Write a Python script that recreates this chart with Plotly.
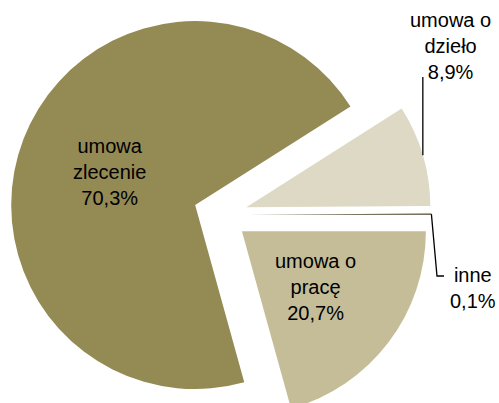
import math
import plotly.graph_objects as go

# ---- data ----
labels = ["umowa o pracę", "umowa zlecenie", "umowa o dzieło", "inne"]
values = [20.7, 70.3, 8.9, 0.1]
value_text = ["20,7%", "70,3%", "8,9%", "0,1%"]
label_text = ["umowa o<br>pracę", "umowa<br>zlecenie", "umowa o<br>dzieło", "inne"]
colors = ["#C4BD97", "#948A54", "#DDD9C4", "#4A452A"]

# ---- layout geometry (pixels) ----
W, H = 499, 426
CX, CY = 220.4, 214.8
BOX = 422.0
PULL = 0.147
R = BOX / 2 / (1 + PULL)
FONT = "Liberation Sans, Arial, sans-serif"
FS = 20
LABEL_R = 0.5  # inside label distance (fraction of radius) from slice apex


def px(x):
    return x / W


def py(y):
    return (H - y) / H


fig = go.Figure(
    go.Pie(
        labels=labels,
        values=values,
        sort=False,
        direction="clockwise",
        rotation=90,
        pull=[PULL] * len(values),
        marker=dict(colors=colors, line=dict(width=0)),
        textinfo="none",
        domain=dict(x=[(CX - BOX / 2) / W, (CX + BOX / 2) / W],
                    y=[(H - (CY + BOX / 2)) / H, (H - (CY - BOX / 2)) / H]),
        showlegend=False,
        hoverinfo="label+percent",
    )
)

# slice geometry computed from the data
total = sum(values)
cum = 0.0
mids = []
for v in values:
    a0 = -360 * cum / total
    cum += v
    a1 = -360 * cum / total
    mids.append(math.radians((a0 + a1) / 2))


def apex(i):
    m = mids[i]
    return CX + PULL * R * math.cos(m), CY - PULL * R * math.sin(m)


def arc_mid(i):
    ax, ay = apex(i)
    m = mids[i]
    return ax + R * math.cos(m), ay - R * math.sin(m)


def inside_pos(i):
    ax, ay = apex(i)
    m = mids[i]
    return ax + LABEL_R * R * math.cos(m), ay - LABEL_R * R * math.sin(m)


shapes = []
# leader line for "umowa o dzieło"
x0, y0 = arc_mid(2)
shapes.append(dict(type="line", xref="paper", yref="paper",
                   x0=px(x0), y0=py(y0), x1=px(x0), y1=py(77),
                   line=dict(color="#000000", width=1.3)))
# leader line for "inne"
x0, y0 = arc_mid(3)
path = f"M {px(x0)} {py(y0)} L {px(437)} {py(276)} L {px(444)} {py(276)}"
shapes.append(dict(type="path", xref="paper", yref="paper", path=path,
                   line=dict(color="#000000", width=1.3)))

font = dict(family=FONT, size=FS, color="#000000")
annotations = []
for i in (0, 1):
    tx, ty = inside_pos(i)
    annotations.append(dict(x=px(tx), y=py(ty), xref="paper", yref="paper",
                            xanchor="center", yanchor="middle",
                            text=f"{label_text[i]}<br>{value_text[i]}",
                            showarrow=False, font=font, align="center"))
annotations.append(dict(x=px(450), y=py(46), xref="paper", yref="paper",
                        xanchor="center", yanchor="middle",
                        text=f"{label_text[2]}<br>{value_text[2]}",
                        showarrow=False, font=font, align="center"))
annotations.append(dict(x=px(473), y=py(288), xref="paper", yref="paper",
                        xanchor="center", yanchor="middle",
                        text=f"{label_text[3]}<br>{value_text[3]}",
                        showarrow=False, font=font, align="center"))

fig.update_layout(
    width=W, height=H,
    margin=dict(l=0, r=0, t=0, b=0),
    paper_bgcolor="#FFFFFF",
    plot_bgcolor="#FFFFFF",
    shapes=shapes,
    annotations=annotations,
    showlegend=False,
)

fig.write_html("out.html",
               config={"displayModeBar": False},
               post_script="document.body.style.margin='0px';document.body.style.overflow='hidden';")
